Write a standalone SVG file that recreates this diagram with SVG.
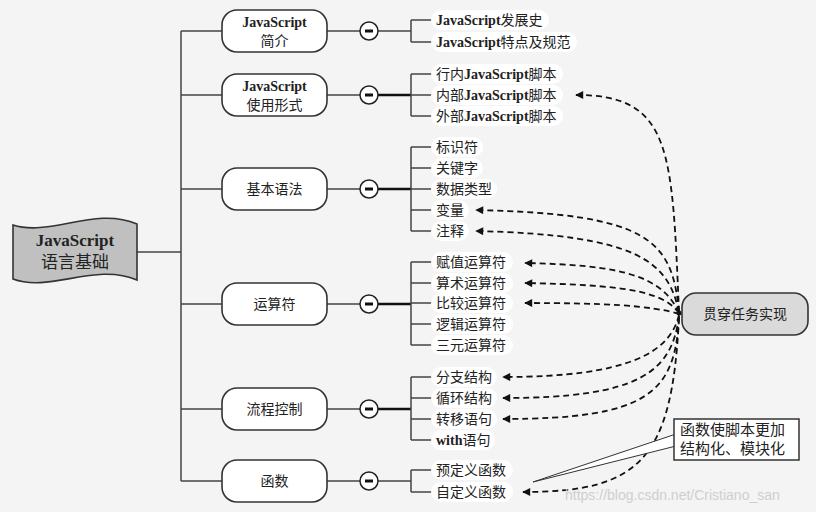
<svg xmlns="http://www.w3.org/2000/svg" width="816" height="512" viewBox="0 0 816 512">
<defs>
<style>
.bg{fill:#f4f4f4}
.ln{stroke:#444;stroke-width:1.5;fill:none}
.thick{stroke:#111;stroke-width:2.6;fill:none}
.node{fill:#ffffff;stroke:#333;stroke-width:1.6}
.circ{fill:#ffffff;stroke:#222;stroke-width:1.5}
.pill{fill:#ffffff}
.t{font-family:"Liberation Serif","Noto Sans CJK SC",serif;font-size:14px;fill:#222}
.tc{text-anchor:middle}
.b{font-weight:bold}
.dash{stroke:#111;stroke-width:1.8;fill:none;stroke-dasharray:6 4;marker-end:url(#ah)}
</style>
<marker id="ah" viewBox="0 0 10 10" refX="9" refY="5" markerWidth="10" markerHeight="8" markerUnits="userSpaceOnUse" orient="auto">
<path d="M0,0 L10,5 L0,10 Z" fill="#111"/>
</marker>
</defs>
<rect class="bg" x="0" y="0" width="816" height="512"/>

<g id="tree-lines">
<path class="ln" d="M137,252 H181 M181,31 V481 M181,31 H222 M181,95 H222 M181,189 H222 M181,304 H222 M181,409 H222 M181,481 H222"/>
<path class="ln" d="M327,31 H360 M327,95 H360 M327,189 H360 M327,304 H360 M327,409 H360 M327,481 H360"/>
<path class="ln" d="M378,31 H411"/>
<path class="thick" d="M378,95 H411 M378,189 H411 M378,304 H411 M378,409 H411"/>
<path class="ln" d="M378,481 H411"/>
<path class="ln" d="M411,20 V42 M411,20 H432 M411,42 H432"/>
<path class="ln" d="M411,74 V116 M411,74 H432 M411,95 H432 M411,116 H432"/>
<path class="ln" d="M411,147 V231 M411,147 H432 M411,168 H432 M411,189 H432 M411,210 H432 M411,231 H432"/>
<path class="ln" d="M411,262 V345 M411,262 H432 M411,283 H432 M411,303 H432 M411,324 H432 M411,345 H432"/>
<path class="ln" d="M411,377 V440 M411,377 H432 M411,398 H432 M411,419 H432 M411,440 H432"/>
<path class="ln" d="M411,470 V492 M411,470 H432 M411,492 H432"/>
</g>

<g id="root">
<path d="M13,225 C50,237 95,206 137,224 L137,280 C95,262 50,293 13,279 Z" fill="#c0c0c0" stroke="#333" stroke-width="1.6"/>
<text class="t tc b" x="75" y="246" style="font-size:17px">JavaScript</text>
<text class="t tc" x="75" y="268" style="font-size:17px">语言基础</text>
</g>

<g id="n1">
<rect class="node" x="222" y="10" width="105" height="42" rx="15"/>
<text class="t tc b" x="274.5" y="27">JavaScript</text>
<text class="t tc" x="274.5" y="46">简介</text>
<circle class="circ" cx="369" cy="31" r="9"/><rect x="365" y="29.5" width="8" height="3" fill="#111"/>
</g>
<g id="n2">
<rect class="node" x="222" y="74" width="105" height="42" rx="15"/>
<text class="t tc b" x="274.5" y="91">JavaScript</text>
<text class="t tc" x="274.5" y="110">使用形式</text>
<circle class="circ" cx="369" cy="95" r="9"/><rect x="365" y="93.5" width="8" height="3" fill="#111"/>
</g>
<g id="n3">
<rect class="node" x="222" y="168" width="105" height="42" rx="15"/>
<text class="t tc" x="274.5" y="194">基本语法</text>
<circle class="circ" cx="369" cy="189" r="9"/><rect x="365" y="187.5" width="8" height="3" fill="#111"/>
</g>
<g id="n4">
<rect class="node" x="222" y="283" width="105" height="42" rx="15"/>
<text class="t tc" x="274.5" y="309">运算符</text>
<circle class="circ" cx="369" cy="304" r="9"/><rect x="365" y="302.5" width="8" height="3" fill="#111"/>
</g>
<g id="n5">
<rect class="node" x="222" y="388" width="105" height="42" rx="15"/>
<text class="t tc" x="274.5" y="414">流程控制</text>
<circle class="circ" cx="369" cy="409" r="9"/><rect x="365" y="407.5" width="8" height="3" fill="#111"/>
</g>
<g id="n6">
<rect class="node" x="222" y="460" width="105" height="42" rx="15"/>
<text class="t tc" x="274.5" y="486">函数</text>
<circle class="circ" cx="369" cy="481" r="9"/><rect x="365" y="479.5" width="8" height="3" fill="#111"/>
</g>

<g id="leaves">
<rect class="pill" x="431" y="10" width="118" height="20" rx="10"/>
<text class="t" x="436" y="25"><tspan class="b">JavaScript</tspan>发展史</text>
<rect class="pill" x="431" y="32" width="146" height="20" rx="10"/>
<text class="t" x="436" y="47"><tspan class="b">JavaScript</tspan>特点及规范</text>

<rect class="pill" x="431" y="64" width="132" height="20" rx="10"/>
<text class="t" x="436" y="79">行内<tspan class="b">JavaScript</tspan>脚本</text>
<rect class="pill" x="431" y="85" width="132" height="20" rx="10"/>
<text class="t" x="436" y="100">内部<tspan class="b">JavaScript</tspan>脚本</text>
<rect class="pill" x="431" y="106" width="132" height="20" rx="10"/>
<text class="t" x="436" y="121">外部<tspan class="b">JavaScript</tspan>脚本</text>

<rect class="pill" x="431" y="137" width="52" height="20" rx="10"/>
<text class="t" x="436" y="152">标识符</text>
<rect class="pill" x="431" y="158" width="52" height="20" rx="10"/>
<text class="t" x="436" y="173">关键字</text>
<rect class="pill" x="431" y="179" width="66" height="20" rx="10"/>
<text class="t" x="436" y="194">数据类型</text>
<rect class="pill" x="431" y="200" width="38" height="20" rx="10"/>
<text class="t" x="436" y="215">变量</text>
<rect class="pill" x="431" y="221" width="38" height="20" rx="10"/>
<text class="t" x="436" y="236">注释</text>

<rect class="pill" x="431" y="252" width="82" height="20" rx="10"/>
<text class="t" x="436" y="267">赋值运算符</text>
<rect class="pill" x="431" y="273" width="82" height="20" rx="10"/>
<text class="t" x="436" y="288">算术运算符</text>
<rect class="pill" x="431" y="293" width="82" height="20" rx="10"/>
<text class="t" x="436" y="308">比较运算符</text>
<rect class="pill" x="431" y="314" width="82" height="20" rx="10"/>
<text class="t" x="436" y="329">逻辑运算符</text>
<rect class="pill" x="431" y="335" width="82" height="20" rx="10"/>
<text class="t" x="436" y="350">三元运算符</text>

<rect class="pill" x="431" y="367" width="66" height="20" rx="10"/>
<text class="t" x="436" y="382">分支结构</text>
<rect class="pill" x="431" y="388" width="66" height="20" rx="10"/>
<text class="t" x="436" y="403">循环结构</text>
<rect class="pill" x="431" y="409" width="66" height="20" rx="10"/>
<text class="t" x="436" y="424">转移语句</text>
<rect class="pill" x="431" y="430" width="64" height="20" rx="10"/>
<text class="t" x="436" y="445"><tspan class="b">with</tspan>语句</text>

<rect class="pill" x="431" y="460" width="82" height="20" rx="10"/>
<text class="t" x="436" y="475">预定义函数</text>
<rect class="pill" x="431" y="482" width="82" height="20" rx="10"/>
<text class="t" x="436" y="497">自定义函数</text>
</g>

<g id="connectors">
<path class="dash" d="M679,312 C672,150 672,95 576,95"/>
<path class="dash" d="M679,312 C672,240 650,214 476,210"/>
<path class="dash" d="M679,312 C668,262 640,235 476,231"/>
<path class="dash" d="M679,313 C662,275 620,265 525,263"/>
<path class="dash" d="M679,313 C662,290 620,285 525,283"/>
<path class="dash" d="M679,314 C650,305 600,303 525,303"/>
<path class="dash" d="M679,315 C670,352 630,377 503,377"/>
<path class="dash" d="M679,316 C672,372 640,398 503,398"/>
<path class="dash" d="M679,317 C675,392 650,419 503,419"/>
<path class="dash" d="M679,318 C672,460 640,492 523,492"/>
<circle cx="679" cy="313" r="2.5" fill="#111"/>
</g>

<g id="task">
<rect x="682" y="293" width="126" height="42" rx="14" fill="#dadada" stroke="#333" stroke-width="1.6"/>
<text class="t tc" x="745" y="319">贯穿任务实现</text>
</g>

<g id="callout">
<polygon points="676,434 676,446 533,482" fill="#ffffff" stroke="#333" stroke-width="1"/>
<rect x="674" y="419" width="125" height="41" fill="#ffffff" stroke="#333" stroke-width="1.5"/>
<text class="t" x="680" y="435" style="font-size:15px">函数使脚本更加</text>
<text class="t" x="680" y="454" style="font-size:15px">结构化、模块化</text>
</g>

<text x="565" y="500" style="font-family:'Liberation Sans',Arial,sans-serif;font-size:14px;fill:#cfcfcf">https://blog.csdn.net/Cristiano_san</text>
</svg>
